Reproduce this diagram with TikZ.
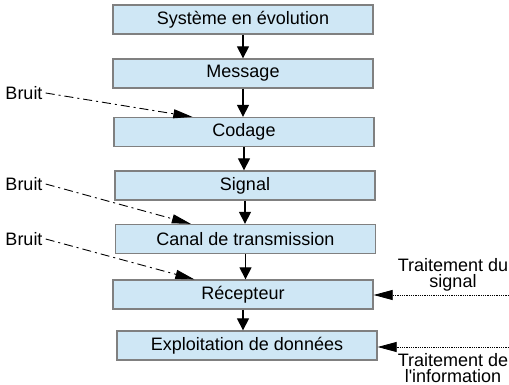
\documentclass[tikz,border=0pt]{standalone}
\usepackage{fontspec}
\setmainfont{Liberation Sans}
\usetikzlibrary{arrows.meta}
\definecolor{boxblue}{RGB}{207,231,245}
\definecolor{boxgray}{RGB}{128,128,128}

\begin{document}
\begin{tikzpicture}[x=1pt, y=-1pt,
	box/.style={draw=boxgray, line width=1.3pt, fill=boxblue, minimum width=260pt,
		minimum height=29pt, inner sep=0pt, font=\fontsize{18}{20}\selectfont},
	flow/.style={line width=1.2pt, -{Triangle[length=12pt, width=12pt]}},
	noise/.style={line width=0.9pt, dash pattern=on 9pt off 4pt on 2pt off 4pt,
		-{Triangle[length=19pt, width=9pt]}},
	treat/.style={line width=0.8pt, densely dotted, -{Triangle[length=19pt, width=10pt]}},
	lbl/.style={font=\fontsize{18}{16.5}\selectfont, inner sep=1pt, align=center}]
	
	\useasboundingbox (0, 0) rectangle (509, 385);
	
	% chaine principale
	\node[box] (sys) at (243, 19.5) {Système en évolution};
	\node[box] (msg) at (243, 73.5) {Message};
	\node[box] (cod) at (244, 132) {Codage};
	\node[box] (sig) at (245, 185.5) {Signal};
	\node[box] (canal) at (245.5, 239) {Canal de transmission};
	\node[box] (recep) at (243, 294.5) {Récepteur};
	\node[box] (expl) at (247, 345.5) {Exploitation de données};
	
	\draw[flow] (sys.south) -- (sys.south |- msg.north);
	\draw[flow] (msg.south) -- (msg.south |- cod.north);
	\draw[flow] (cod.south) -- (cod.south |- sig.north);
	\draw[flow] (sig.south) -- (sig.south |- canal.north);
	\draw[flow] (canal.south) -- (canal.south |- recep.north);
	\draw[flow] (recep.south) -- (recep.south |- expl.north);
	
	% bruits
	\node[lbl] (bruitA) at (24, 93) {Bruit};
	\node[lbl] (bruitB) at (24, 184) {Bruit};
	\node[lbl] (bruitC) at (24, 239) {Bruit};
	
	\draw[noise] ([xshift=2pt]bruitA.east) -- ([xshift=79pt]cod.north west);
	\draw[noise] ([xshift=2pt]bruitB.east) -- ([xshift=76pt]canal.north west);
	\draw[noise] ([xshift=2pt]bruitC.east) -- ([xshift=82pt]recep.north west);
	
	% traitements
	\node[lbl] (trsig) at (453, 275) {Traitement du\\signal};
	\node[lbl] (trinfo) at (453, 368) {Traitement de\\l\textquotesingle information};
	\coordinate (trsigin) at (509, 295);
	\coordinate (trinfoin) at (509, 347);
	
	\draw[treat] (trsigin) -- (recep.east |- trsigin);
	\draw[treat] (trinfoin) -- (expl.east |- trinfoin);
\end{tikzpicture}
\end{document}
